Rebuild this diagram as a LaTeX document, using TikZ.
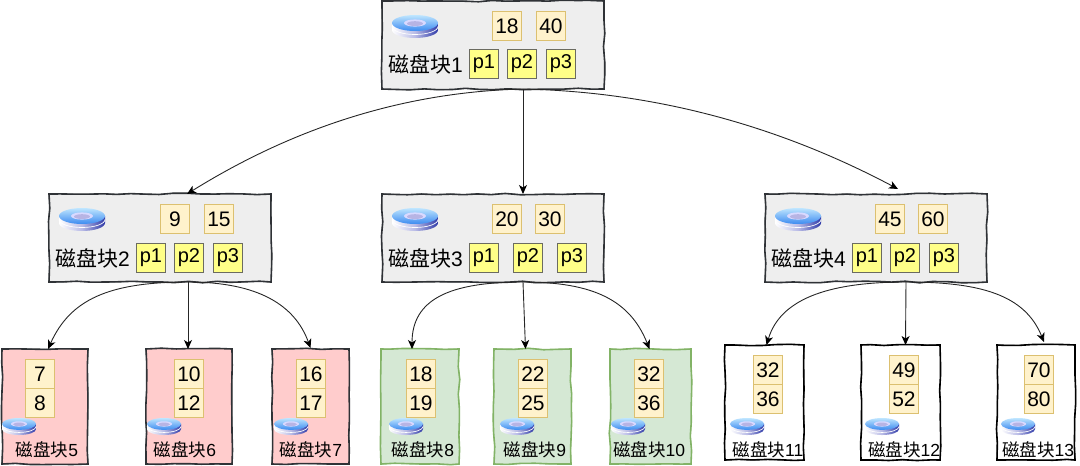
\documentclass[tikz,border=0pt]{standalone}
\usepackage{fontspec}
\setmainfont{Liberation Sans}
\newfontfamily\cjk{Noto Sans CJK SC}
\usetikzlibrary{arrows.meta,decorations.pathmorphing,calc}
\definecolor{ink}{HTML}{2F3236}
\definecolor{greyfill}{HTML}{EEEEEE}
\definecolor{keyfill}{HTML}{FFF2CC}
\definecolor{keyline}{HTML}{DCC070}
\definecolor{pfill}{HTML}{FFFF88}
\definecolor{pline}{HTML}{6B6B60}
\definecolor{redfill}{HTML}{FFCCCC}
\definecolor{greenfill}{HTML}{D5E8D4}
\definecolor{greenline}{HTML}{82B366}
\definecolor{diskdark}{HTML}{2F3AA8}
\definecolor{diskmid}{HTML}{B9BBE6}
\definecolor{disktop}{HTML}{BFE6FF}
\definecolor{diskblue}{HTML}{3D8BF0}
\definecolor{diskhole}{HTML}{B7B4E4}
\tikzset{
  x=1pt,y=-1pt,
  sketch/.style={decorate,decoration={random steps,segment length=14pt,amplitude=0.8pt}},
  boxbase/.style={anchor=north west,inner sep=0pt,outer sep=0pt,line width=1.6pt,sketch,
     preaction={draw,line width=0.8pt,sketch,decoration={random steps,segment length=19pt,amplitude=1pt}}},
  greybox/.style={boxbase,draw=ink,fill=greyfill,minimum width=222pt,minimum height=88pt},
  redbox/.style={boxbase,draw=ink,fill=redfill,minimum height=115pt},
  greenbox/.style={boxbase,draw=greenline,fill=greenfill,minimum height=115pt},
  whitebox/.style={boxbase,draw=black,fill=white,minimum height=115pt},
  keybox/.style={anchor=north west,draw=keyline,fill=keyfill,line width=0.9pt,minimum width=29pt,minimum height=29pt,inner sep=0pt,font=\fontsize{21}{23}\selectfont,text=black},
  pbox/.style={anchor=north west,draw=pline,fill=pfill,line width=0.9pt,minimum width=29pt,minimum height=29pt,inner sep=0pt,font=\fontsize{20}{22}\selectfont,text=black},
  biglabel/.style={anchor=west,inner sep=0pt,font=\fontsize{21}{23}\selectfont,text=black},
  leaflabel/.style={anchor=center,inner sep=0pt,font=\fontsize{17.5}{19}\selectfont,text=black},
  conn/.style={draw=black!85,line width=0.9pt,-{Stealth[length=9pt,width=8pt,inset=2.5pt,black]}},
  pics/disk/.style={code={
    \path[left color=white,right color=diskdark,middle color=diskmid]
      (0,8) -- (0,15) arc[start angle=180,end angle=0,x radius=23,y radius=8] -- (46,8) -- cycle;
    \draw[white,line width=0.7pt] (0,11.5) arc[start angle=180,end angle=0,x radius=23,y radius=8];
    \path[top color=disktop,bottom color=diskblue] (23,8) ellipse[x radius=23,y radius=8];
    \path[fill=white!85!blue] (23,8) ellipse[x radius=11,y radius=3.6];
    \path[fill=diskhole] (23,8.6) ellipse[x radius=8,y radius=2.4];
  }}
}
\begin{document}
\begin{tikzpicture}
\useasboundingbox (0,0) rectangle (1080,466);
\pgfmathsetseed{17}
% internal blocks
\node[greybox] (b1) at (382,1) {};
\node[greybox] (b2) at (49,194) {};
\node[greybox] (b3) at (382,194) {};
\node[greybox] (b4) at (765,194) {};
% leaves
\node[redbox,minimum width=86pt] (l5) at (2,349) {};
\node[redbox,minimum width=86pt] (l6) at (146,349) {};
\node[redbox,minimum width=77pt] (l7) at (272,349) {};
\node[greenbox,minimum width=78pt] (l8) at (381,349) {};
\node[greenbox,minimum width=77pt] (l9) at (494,349) {};
\node[greenbox,minimum width=81pt] (l10) at (610,349) {};
\node[whitebox,minimum width=79pt] (l11) at (725,345) {};
\node[whitebox,minimum width=79pt] (l12) at (861,345) {};
\node[whitebox,minimum width=78pt] (l13) at (997,345) {};
% disks
\pic at (392,15) {disk};
\pic at (59,208) {disk};
\pic at (392,208) {disk};
\pic at (775,208) {disk};
\pic[scale=0.74] at (2,418) {disk};
\pic[scale=0.74] at (147,418) {disk};
\pic[scale=0.74] at (274,418) {disk};
\pic[scale=0.74] at (389,418) {disk};
\pic[scale=0.74] at (500,418) {disk};
\pic[scale=0.74] at (611,418) {disk};
\pic[scale=0.74] at (730,418) {disk};
\pic[scale=0.74] at (865,418) {disk};
\pic[scale=0.74] at (1001,418) {disk};
% root cells
\node[keybox] (k1a) at (492,11) {18};
\node[keybox] (k1b) at (536,11) {40};
\node[pbox] (p1a) at (469,49) {p1};
\node[pbox] (p1b) at (507,49) {p2};
\node[pbox] (p1c) at (546,49) {p3};
\node[biglabel] (t1) at (388,64) {{\cjk 磁盘块}1};
% block 2
\node[keybox] (k2a) at (160,204) {9};
\node[keybox] (k2b) at (204,204) {15};
\node[pbox] (p2a) at (136,243) {p1};
\node[pbox] (p2b) at (174,243) {p2};
\node[pbox] (p2c) at (213,243) {p3};
\node[biglabel] (t2) at (55,258) {{\cjk 磁盘块}2};
% block 3
\node[keybox] (k3a) at (492,204) {20};
\node[keybox] (k3b) at (535,204) {30};
\node[pbox] (p3a) at (469,243) {p1};
\node[pbox] (p3b) at (513,243) {p2};
\node[pbox] (p3c) at (557,243) {p3};
\node[biglabel] (t3) at (388,258) {{\cjk 磁盘块}3};
% block 4
\node[keybox] (k4a) at (875,204) {45};
\node[keybox] (k4b) at (918,204) {60};
\node[pbox] (p4a) at (852,243) {p1};
\node[pbox] (p4b) at (890,243) {p2};
\node[pbox] (p4c) at (929,243) {p3};
\node[biglabel] (t4) at (771,258) {{\cjk 磁盘块}4};
% leaf cells
\node[keybox] (k5a) at (25,359) {7};    \node[keybox] (k5b) at (25,388) {8};
\node[keybox] (k6a) at (174,359) {10};  \node[keybox] (k6b) at (174,388) {12};
\node[keybox] (k7a) at (296,359) {16};  \node[keybox] (k7b) at (296,388) {17};
\node[keybox] (k8a) at (406,359) {18};  \node[keybox] (k8b) at (406,388) {19};
\node[keybox] (k9a) at (518,359) {22};  \node[keybox] (k9b) at (518,388) {25};
\node[keybox] (k10a) at (634,359) {32}; \node[keybox] (k10b) at (634,388) {36};
\node[keybox] (k11a) at (753,355) {32}; \node[keybox] (k11b) at (753,384) {36};
\node[keybox] (k12a) at (889,355) {49}; \node[keybox] (k12b) at (889,384) {52};
\node[keybox] (k13a) at (1024,355) {70};\node[keybox] (k13b) at (1024,384) {80};
% leaf labels
\node[leaflabel] (t5) at (47,450) {{\cjk 磁盘块}5};
\node[leaflabel] (t6) at (185,450) {{\cjk 磁盘块}6};
\node[leaflabel] (t7) at (311,450) {{\cjk 磁盘块}7};
\node[leaflabel] (t8) at (423,450) {{\cjk 磁盘块}8};
\node[leaflabel] (t9) at (535,450) {{\cjk 磁盘块}9};
\node[leaflabel] (t10) at (649,450) {{\cjk 磁盘块}10};
\node[leaflabel] (t11) at (768,450) {{\cjk 磁盘块}11};
\node[leaflabel] (t12) at (904,450) {{\cjk 磁盘块}12};
\node[leaflabel] (t13) at (1038,450) {{\cjk 磁盘块}13};
% connector anchor points
\coordinate (o1) at ($(b1.south)+(30,0)$);
\coordinate (o2) at ($(b2.south)+(28,0)$);
\coordinate (o3) at ($(b3.south)+(30,0)$);
\coordinate (o4) at ($(b4.south)+(30,0)$);
\coordinate (i2) at ($(b2.north)+(27,0)$);
\coordinate (i3) at ($(b3.north)+(30,0)$);
\coordinate (i4) at ($(b4.north)+(22,-5)$);
\coordinate (i5) at ($(l5.north)+(3,0)$);
\coordinate (i6) at ($(l6.north)+(-1,0)$);
\coordinate (i7) at ($(l7.north)+(0,-1)$);
\coordinate (i8) at ($(l8.north)+(-8,0)$);
\coordinate (i9) at ($(l9.north)+(-7,0)$);
\coordinate (i10) at ($(l10.north)+(-1,0)$);
\coordinate (i11) at ($(l11.north)+(2,0)$);
\coordinate (i12) at ($(l12.north)+(5,0)$);
\coordinate (i13) at ($(l13.north)+(8,-3)$);
% connectors
\draw[conn] (o1) .. controls (400,92) and (290,130) .. (i2);
\draw[conn] (o1) -- (i3);
\draw[conn] (o1) .. controls (660,92) and (783,128) .. (i4);
\draw[conn] (o2) .. controls +(-80,0) and (70,300) .. (i5);
\draw[conn] (o2) -- (i6);
\draw[conn] (o2) .. controls +(70,0) and (295,305) .. (i7);
\draw[conn] (o3) .. controls +(-75,0) and (412,300) .. (i8);
\draw[conn] (o3) -- (i9);
\draw[conn] (o3) .. controls +(70,0) and (630,300) .. (i10);
\draw[conn] (o4) .. controls +(-80,0) and (780,300) .. (i11);
\draw[conn] (o4) -- (i12);
\draw[conn] (o4) .. controls +(75,0) and (1025,295) .. (i13);
\end{tikzpicture}
\end{document}
